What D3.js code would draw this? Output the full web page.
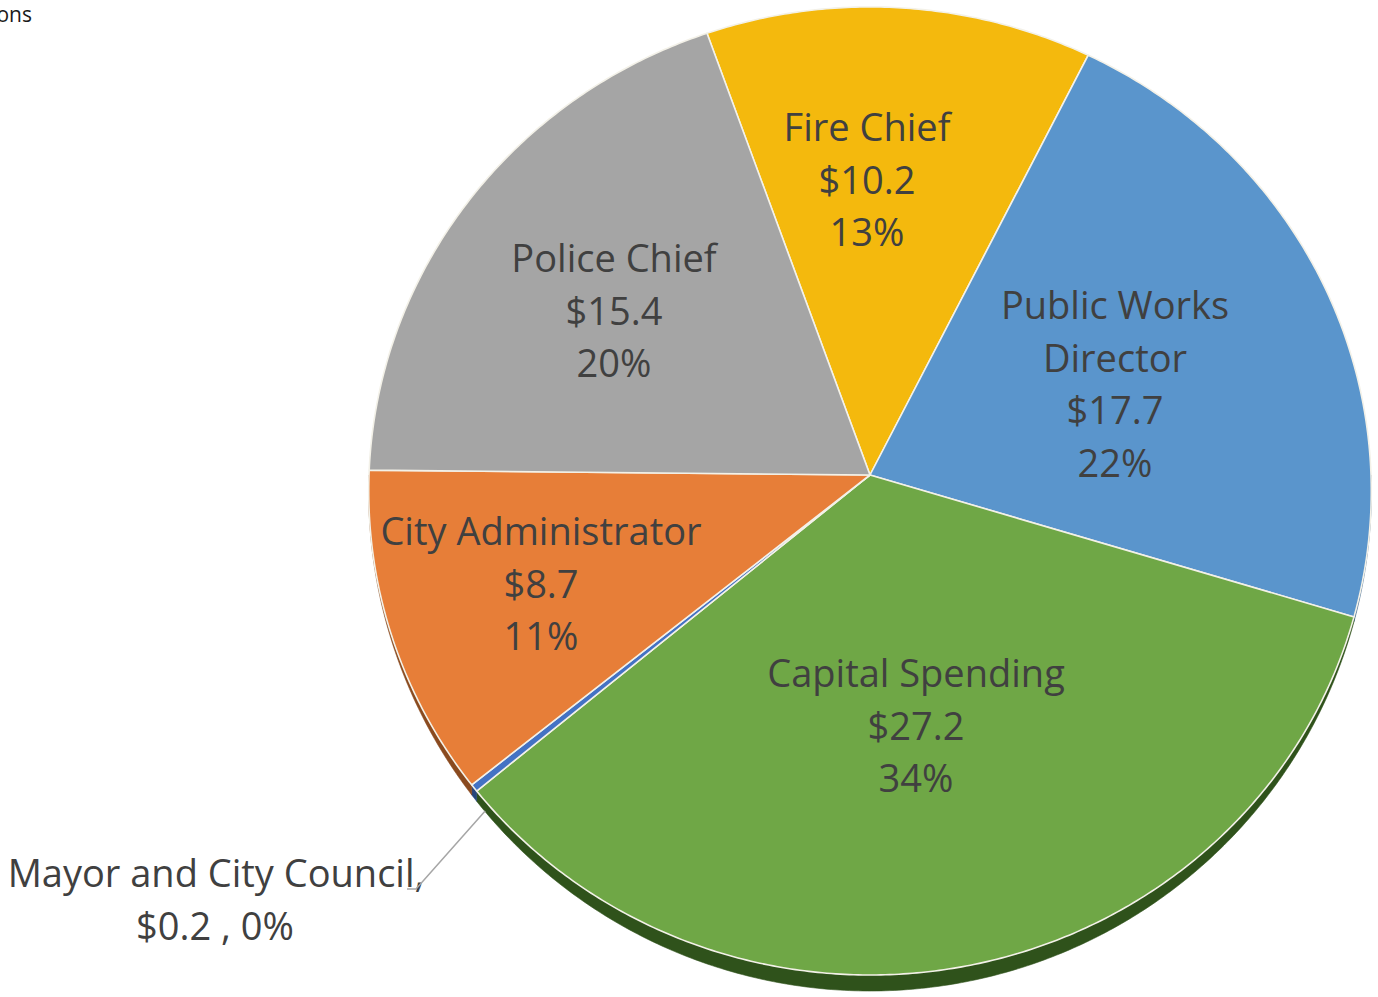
<!DOCTYPE html>
<html>
<head>
<meta charset="utf-8">
<script src="https://cdn.jsdelivr.net/npm/d3@7"></script>
<style>
  html, body { margin: 0; padding: 0; background: #ffffff; }
  svg { display: block; }
</style>
</head>
<body>
<svg id="chart" width="1378" height="997"></svg>
<script>
// Budget by department, $ in millions
const categories = ["Fire Chief", "Public Works Director", "Capital Spending",
                    "Mayor and City Council", "City Administrator", "Police Chief"];
const values = [10.2, 17.7, 27.2, 0.2, 8.7, 15.4];
const valueLabels = ["$10.2", "$17.7", "$27.2", "$0.2", "$8.7", "$15.4"];
const percentLabels = ["13%", "22%", "34%", "0%", "11%", "20%"];
const colors = ["#F4B90D", "#5A95CC", "#6FA746", "#4472C4", "#E77E38", "#A5A5A5"];
const sideColors = ["#8C6A06", "#2F5A85", "#2F521B", "#27467C", "#8A4A1F", "#5E5E5E"];

const svg = d3.select("#chart");

// Tilted pie geometry
const cx = 870, cy = 475;
const rx = 501, ry = 483.5;
const persp = 0.033;       // near edge appears larger than far edge
const depth = 16;          // wall thickness at the nearest point

const deg = Math.PI / 180;
const startA = -19.6 * deg;

// angle measured clockwise from 12 o'clock, r as a fraction of the radius
function project(a, r) {
  const u = r * Math.sin(a);
  const v = -r * Math.cos(a);
  const w = 1 / (1 - persp * v);
  return [cx + rx * u * w, cy + ry * v * w];
}

const pie = d3.pie().sort(null).value(d => d)
  .startAngle(startA).endAngle(startA + 2 * Math.PI);
const arcs = pie(values);

function angles(a0, a1) {
  const n = Math.max(2, Math.ceil((a1 - a0) / (0.5 * deg)));
  return d3.range(n + 1).map(i => a0 + (a1 - a0) * i / n);
}
function arcPoints(a0, a1) {
  return angles(a0, a1).map(a => project(a, 1));
}

const line = d3.line();
const closed = d3.line().curve(d3.curveLinearClosed);

// Side wall on the front half of the pie, thickest nearest the viewer
const gSide = svg.append("g");
arcs.forEach((d, i) => {
  const a0 = Math.max(d.startAngle, 90 * deg);
  const a1 = Math.min(d.endAngle, 270 * deg);
  if (a1 <= a0) return;
  const as = angles(a0, a1);
  const top = as.map(a => project(a, 1));
  const bottom = as.map((a, k) => {
    const v = Math.max(0, -Math.cos(a));
    return [top[k][0], top[k][1] + depth * v];
  }).reverse();
  gSide.append("path")
    .attr("d", closed(top.concat(bottom)))
    .attr("fill", sideColors[i])
    .attr("stroke", sideColors[i])
    .attr("stroke-width", 0.6);
});

// Top faces of the slices
const gTop = svg.append("g");
arcs.forEach((d, i) => {
  const pts = [[cx, cy]].concat(arcPoints(d.startAngle, d.endAngle));
  gTop.append("path")
    .attr("d", closed(pts))
    .attr("fill", colors[i])
    .attr("stroke", "#F3F1E8")
    .attr("stroke-width", 1.6)
    .attr("stroke-linejoin", "round");
});

// Data labels
const textColor = "#404040";
const fontFamily = "'Open Sans', 'Liberation Sans', sans-serif";
const lineStep = 52.7;
const labelLayout = [
  { x: 867,  y: 141, lines: ["Fire Chief"] },
  { x: 1115, y: 319, lines: ["Public Works", "Director"] },
  { x: 916,  y: 687, lines: ["Capital Spending"] },
  null,
  { x: 541,  y: 545, lines: ["City Administrator"] },
  { x: 614,  y: 272, lines: ["Police Chief"] }
];

const gLabels = svg.append("g")
  .attr("font-family", fontFamily)
  .attr("font-size", 38)
  .attr("fill", textColor)
  .attr("text-anchor", "middle");

labelLayout.forEach((L, i) => {
  if (!L) return;
  const rows = L.lines.concat([valueLabels[i], percentLabels[i]]);
  const t = gLabels.append("text");
  rows.forEach((s, k) => {
    t.append("tspan").attr("x", L.x).attr("y", L.y + k * lineStep).text(s);
  });
});

// Small slice: label outside with leader line
const mi = categories.indexOf("Mayor and City Council");
const md = arcs[mi];
const mid = (md.startAngle + md.endAngle) / 2;
const edge = project(mid, 1);
const leaderStart = [edge[0] + 11, edge[1] + 23];
svg.append("path")
  .attr("d", line([leaderStart, [416, 889], [407, 889]]))
  .attr("fill", "none")
  .attr("stroke", "#A6A6A6")
  .attr("stroke-width", 1.5);

const mt = gLabels.append("text");
mt.append("tspan").attr("x", 216).attr("y", 887).text(categories[mi] + ",");
mt.append("tspan").attr("x", 215).attr("y", 887 + lineStep)
  .text(valueLabels[mi] + " , " + percentLabels[mi]);

// Units note at top-left
svg.append("text")
  .attr("x", 32).attr("y", 22)
  .attr("text-anchor", "end")
  .attr("font-family", fontFamily)
  .attr("font-size", 21)
  .attr("fill", "#1a1a1a")
  .text("$ in Millions");
</script>
</body>
</html>
